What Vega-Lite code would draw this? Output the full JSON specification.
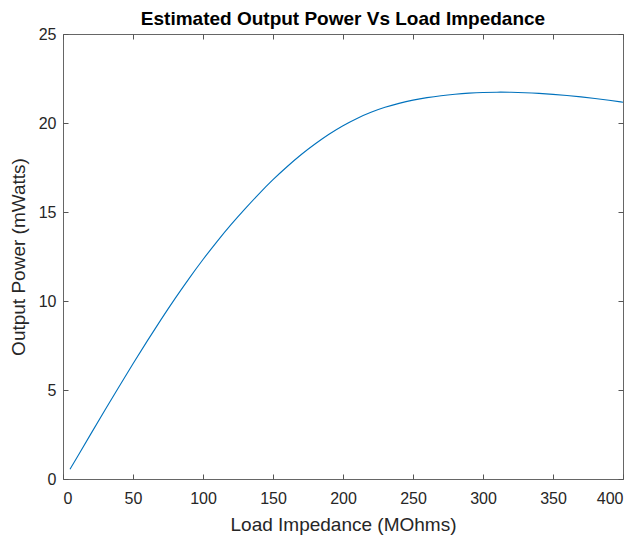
{
  "$schema": "https://vega.github.io/schema/vega-lite/v6.json",
  "width": 560,
  "height": 445,
  "autosize": "none",
  "padding": {"left": 63, "top": 34, "right": 16, "bottom": 60},
  "background": "white",
  "title": {"text": "Estimated Output Power Vs Load Impedance", "fontSize": 19, "font": "Liberation Sans", "fontWeight": "bold", "color": "#000000", "offset": -3, "anchor": "middle"},
  "config": {
    "view": {"stroke": "#666666", "strokeWidth": 1},
    "axis": {"grid": false, "domain": false, "tickColor": "#555555", "tickSize": -5, "labelFont": "Liberation Sans", "labelFontSize": 16, "labelColor": "#262626", "titleFont": "Liberation Sans", "titleFontSize": 19, "titleFontWeight": "normal", "titleColor": "#262626"}
  },
  "data": {"values": [
    {"r": 5, "p": 0.55}, {"r": 10, "p": 1.21}, {"r": 20, "p": 2.55}, {"r": 30, "p": 3.88}, {"r": 40, "p": 5.19},
    {"r": 50, "p": 6.48}, {"r": 60, "p": 7.74}, {"r": 70, "p": 8.96}, {"r": 80, "p": 10.14}, {"r": 90, "p": 11.27},
    {"r": 100, "p": 12.34}, {"r": 110, "p": 13.35}, {"r": 120, "p": 14.3}, {"r": 130, "p": 15.18}, {"r": 140, "p": 16.03},
    {"r": 150, "p": 16.83}, {"r": 160, "p": 17.55}, {"r": 170, "p": 18.23}, {"r": 180, "p": 18.83}, {"r": 190, "p": 19.38},
    {"r": 200, "p": 19.86}, {"r": 210, "p": 20.27}, {"r": 220, "p": 20.61}, {"r": 230, "p": 20.89}, {"r": 240, "p": 21.11},
    {"r": 250, "p": 21.29}, {"r": 260, "p": 21.43}, {"r": 270, "p": 21.54}, {"r": 280, "p": 21.62}, {"r": 290, "p": 21.68},
    {"r": 300, "p": 21.72}, {"r": 310, "p": 21.735}, {"r": 320, "p": 21.73}, {"r": 330, "p": 21.705}, {"r": 340, "p": 21.665},
    {"r": 350, "p": 21.61}, {"r": 360, "p": 21.545}, {"r": 370, "p": 21.47}, {"r": 380, "p": 21.38}, {"r": 390, "p": 21.28},
    {"r": 400, "p": 21.17}
  ]},
  "layer": [
    {
      "mark": {"type": "line", "color": "#0072BD", "strokeWidth": 1.1, "interpolate": "basis"},
      "encoding": {
        "x": {"field": "r", "type": "quantitative", "scale": {"domain": [0, 400], "nice": false},
              "axis": {"orient": "bottom", "title": "Load Impedance (MOhms)", "values": [0, 50, 100, 150, 200, 250, 300, 350, 400], "labelPadding": 16, "titlePadding": 9}},
        "y": {"field": "p", "type": "quantitative", "scale": {"domain": [0, 25], "nice": false},
              "axis": {"orient": "left", "title": "Output Power (mWatts)", "values": [0, 5, 10, 15, 20, 25], "labelPadding": 12, "titlePadding": 10}}
      }
    },
    {
      "mark": {"type": "line", "opacity": 0},
      "encoding": {
        "x": {"field": "r", "type": "quantitative", "scale": {"domain": [0, 400], "nice": false},
              "axis": {"orient": "top", "title": null, "labels": false, "values": [0, 50, 100, 150, 200, 250, 300, 350, 400]}},
        "y": {"field": "p", "type": "quantitative", "scale": {"domain": [0, 25], "nice": false},
              "axis": {"orient": "right", "title": null, "labels": false, "values": [0, 5, 10, 15, 20, 25]}}
      }
    }
  ],
  "resolve": {"axis": {"x": "independent", "y": "independent"}}
}
